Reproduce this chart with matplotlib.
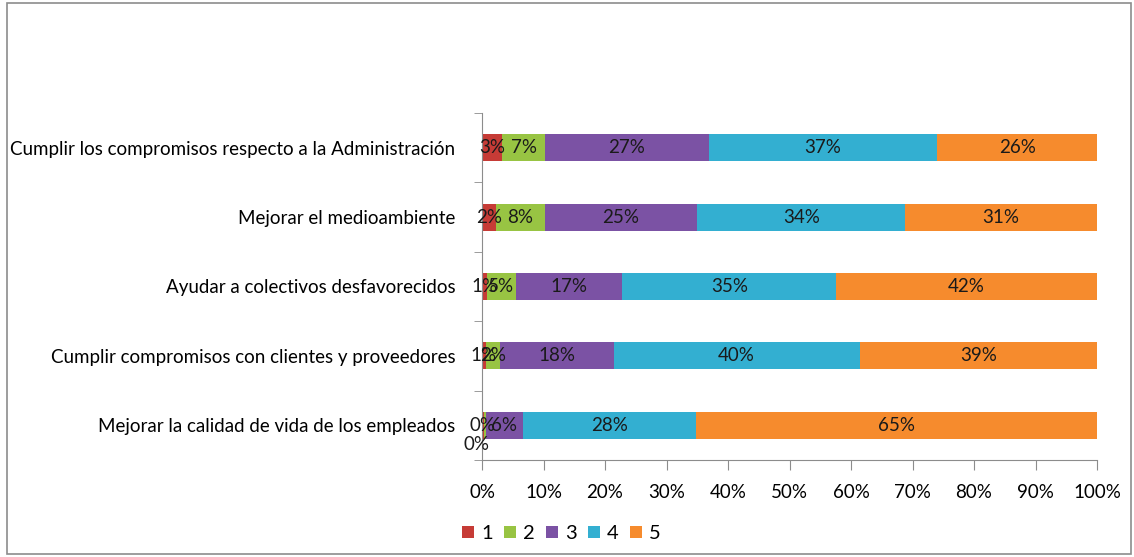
import matplotlib.pyplot as plt
from matplotlib.patches import Rectangle
from matplotlib.ticker import MultipleLocator, PercentFormatter
import numpy as np

plt.rcParams['font.family'] = ['Lato', 'DejaVu Sans']

# categories, bottom to top
categories = [
    'Mejorar la calidad de vida de los empleados',
    'Cumplir compromisos con clientes y proveedores',
    'Ayudar a colectivos desfavorecidos',
    'Mejorar el medioambiente',
    'Cumplir los compromisos respecto a la Administración',
]
series_names = ['1', '2', '3', '4', '5']
# percent per score, same order as categories
s1 = [0.3, 0.6, 0.8, 2.3, 3.3]
s2 = [0.3, 2.4, 4.7, 7.9, 6.9]
s3 = [6.1, 18.4, 17.3, 24.8, 26.7]
s4 = [28.1, 40.0, 34.8, 33.8, 37.1]
s5 = [65.2, 38.6, 42.4, 31.2, 26.0]
colors = ['#C63B36', '#98C443', '#7B52A4', '#33AFD1', '#F68B2D']

fig = plt.figure(figsize=(11.34, 5.57), dpi=100)
fig.patches.append(Rectangle((0.006, 0.006), 0.991, 0.988, transform=fig.transFigure,
                             fill=False, edgecolor='#8C8C8C', linewidth=1.2))
ax = fig.add_axes([482 / 1134, 1 - 460 / 557, 615 / 1134, 347 / 557])

y = np.arange(len(categories))
left = np.zeros(len(categories))
for name, vals, c in zip(series_names, [s1, s2, s3, s4, s5], colors):
    vals = np.array(vals)
    ax.barh(y, vals, left=left, height=0.39, color=c, label=name, edgecolor='none')
    for i, v in enumerate(vals):
        dy = 0
        dx = 0
        # excel pushed this tiny label below the bar
        if i == 0 and name == '2':
            dy = -0.28
            dx = -1.3
        ax.text(left[i] + v / 2 + dx, y[i] + dy, f'{round(v):.0f}%', ha='center', va='center',
                fontsize=13.5, color='#1a1a1a')
    left += vals

ax.set_xlim(0, 100)
ax.set_ylim(-0.5, len(categories) - 0.5)
ax.xaxis.set_major_locator(MultipleLocator(10))
ax.xaxis.set_major_formatter(PercentFormatter(decimals=0))
ax.set_yticks(y)
ax.set_yticklabels(categories)
ax.set_yticks(np.arange(-0.5, len(categories), 1), minor=True)
ax.tick_params(axis='y', which='major', length=0, pad=19, labelsize=13.5)
ax.tick_params(axis='y', which='minor', length=6, color='#8C8C8C')
ax.tick_params(axis='x', length=7, color='#8C8C8C', labelsize=13.5, pad=10)
for s in ['top', 'right']:
    ax.spines[s].set_visible(False)
for s in ['left', 'bottom']:
    ax.spines[s].set_color('#8C8C8C')

ax.legend(loc='upper left', bbox_to_anchor=(444 / 1134, 1 - 507 / 557),
          bbox_transform=fig.transFigure, ncol=5, frameon=False,
          handlelength=0.6, handleheight=0.6, handletextpad=0.35, columnspacing=0.55,
          fontsize=14.5)

fig.savefig('out.png')
